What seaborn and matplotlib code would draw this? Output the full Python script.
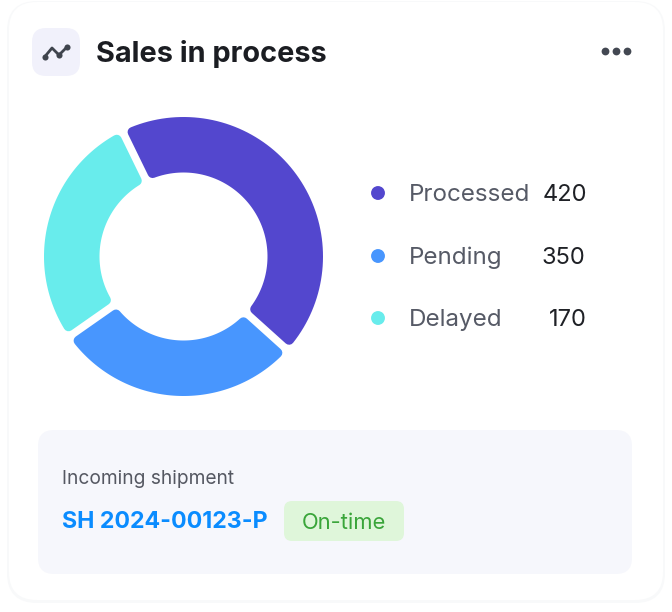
import matplotlib
matplotlib.use('Agg')
import matplotlib.pyplot as plt
import numpy as np
import pandas as pd
import seaborn as sns
from matplotlib.patches import FancyBboxPatch, Polygon

categories = ['Processed', 'Pending', 'Delayed']
values = ['420', '350', '170']
# the arcs in the picture do not follow the printed numbers, so read them off as degrees
slice_degrees = [158, 103, 99]
colors = ['#5347ce', '#4896fe', '#68ecec']

title = 'Sales in process'
panel_label = 'Incoming shipment'
shipment_id = 'SH 2024-00123-P'
status = 'On-time'

icon_x = [44.5, 52, 59, 67]
icon_y = [57, 48, 55, 47]
menu_x = [605, 616, 627]
menu_y = [51, 51, 51]
legend_x = [378, 378, 378]
legend_y = [193, 256, 318]
value_right = [587, 585, 587]

sns.set_theme(style='white')
plt.rcParams['font.family'] = ['Inter', 'DejaVu Sans']

fig = plt.figure(figsize=(6.72, 6.12), dpi=100)
fig.patch.set_facecolor('white')

# whole figure axes, one unit is one pixel
ax = fig.add_axes([0, 0, 1, 1])
ax.set_zorder(1)


def rounded(x0, y0, x1, y1, radius, **kwargs):
    box = FancyBboxPatch((x0 + radius, y0 + radius), x1 - x0 - 2 * radius, y1 - y0 - 2 * radius,
                         boxstyle=f'round,pad={radius},rounding_size={radius}', **kwargs)
    ax.add_patch(box)


# card with a faint shadow
rounded(7, 1, 665, 603, 30, fc='#f8f9fa', ec='none', zorder=1)
rounded(9, 2, 663, 600, 28, fc='white', ec='none', zorder=2)

# header
rounded(32, 28, 80, 76, 14, fc='#f1f1fb', ec='none', zorder=3)
ax.plot(icon_x, icon_y, color='#3f444d', lw=2, zorder=4, solid_capstyle='round')
ax.plot([icon_x[0], icon_x[2], icon_x[3]], [icon_y[0], icon_y[2], icon_y[3]], 'o', ms=4.4,
        color='#3f444d', mew=0, zorder=4)
ax.text(96, 54, title, fontsize=20.8, fontweight='bold', color='#1b1d22', va='center', zorder=4)
ax.plot(menu_x, menu_y, 'o', ms=5.6, color='#434852', mew=0, zorder=4)

# legend
legend = pd.DataFrame({'x': legend_x, 'y': legend_y, 'category': categories})
sns.scatterplot(data=legend, x='x', y='y', hue='category', palette=colors, s=100, linewidth=0,
                legend=False, ax=ax, zorder=4)
for cat, val, y, right in zip(categories, values, legend_y, value_right):
    ax.text(409, y + 2, cat, fontsize=17.4, color='#565a66', va='center', zorder=4)
    ax.text(right, y + 2, val, fontsize=17, color='#1f2126', va='center', ha='right', zorder=4)

# shipment panel
rounded(38, 430, 632, 574, 16, fc='#f6f7fc', ec='none', zorder=3)
ax.text(62, 479, panel_label, fontsize=13.8, color='#555862', va='center', zorder=4)
ax.text(62, 522, shipment_id, fontsize=16.7, fontweight='bold', color='#0a8cff', va='center', zorder=4)
rounded(284, 501, 404, 541, 8, fc='#dff6da', ec='none', zorder=4)
ax.text(344, 523, status, fontsize=15.8, color='#3aa53a', va='center', ha='center', zorder=5)

ax.set_xlim(0, 672)
ax.set_ylim(612, 0)
ax.axis('off')

# donut on its own axes, again in pixels but with the centre at 0, 0
cx, cy = 183.5, 256.5
pie_ax = fig.add_axes([(cx - 150) / 672, 1 - (cy + 150) / 612, 300 / 672, 300 / 612])
pie_ax.set_zorder(2)
pie_ax.patch.set_alpha(0)
wedges, _ = pie_ax.pie(slice_degrees, colors=colors, startangle=116, counterclock=False, radius=140)

# rebuild each wedge with parallel gaps, rounded corners come from the round stroke
corner = 5
outer = 139.5 - corner
inner = 84 + corner
offset = 3.8 + corner
for wedge in wedges:
    t1, t2 = wedge.theta1, wedge.theta2
    da_out = np.degrees(np.arcsin(offset / outer))
    da_in = np.degrees(np.arcsin(offset / inner))
    a_out = np.radians(np.linspace(t1 + da_out, t2 - da_out, 80))
    a_in = np.radians(np.linspace(t2 - da_in, t1 + da_in, 80))
    xs = np.r_[outer * np.cos(a_out), inner * np.cos(a_in)]
    ys = np.r_[outer * np.sin(a_out), inner * np.sin(a_in)]
    face = wedge.get_facecolor()
    wedge.remove()
    pie_ax.add_patch(Polygon(np.c_[xs, ys], closed=True, fc=face, ec=face, lw=corner * 2 * 0.72,
                             joinstyle='round'))

pie_ax.set_xlim(-150, 150)
pie_ax.set_ylim(-150, 150)
pie_ax.axis('off')

fig.savefig('out.png', dpi=100)
